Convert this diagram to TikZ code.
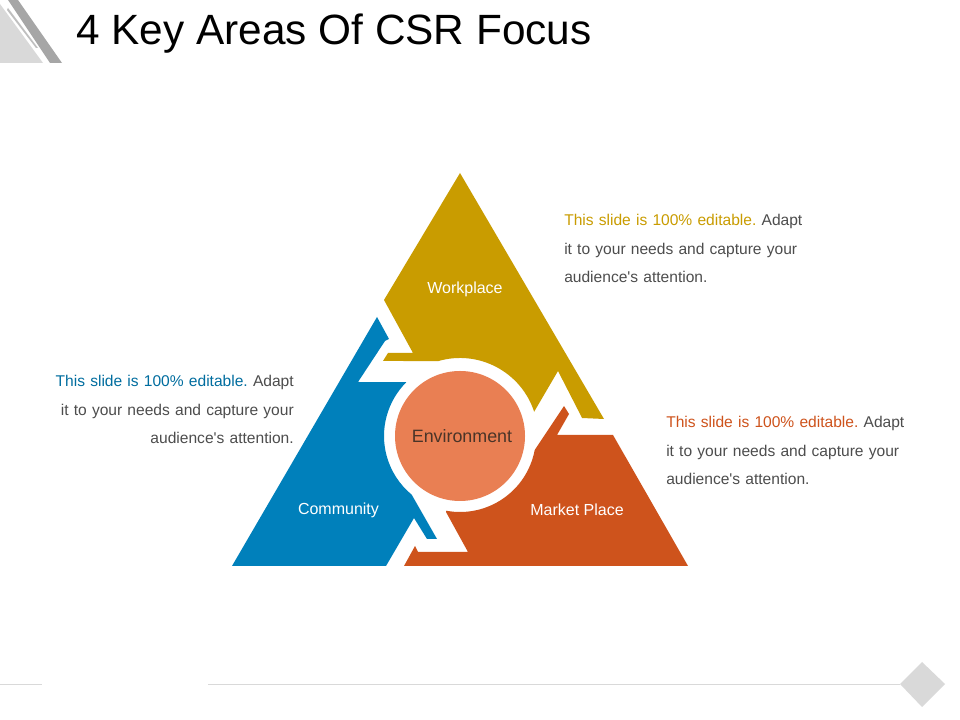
\documentclass[tikz,border=0pt]{standalone}
\usepackage{fontspec}
\setmainfont{Liberation Sans}
\newfontfamily\plainsans{Liberation Sans}
\usetikzlibrary{calc}
\definecolor{goldc}{HTML}{C99C00}
\definecolor{bluec}{HTML}{0080BB}
\definecolor{orangec}{HTML}{CE531C}
\definecolor{circc}{HTML}{E97F53}
\definecolor{textc}{HTML}{4D4D4D}
\definecolor{rulec}{HTML}{D9D9D9}
\definecolor{envc}{HTML}{4A3428}
\tikzset{
  label/.style={text=white,font=\fontsize{12}{14}\selectfont,inner sep=0pt},
  para/.style={text=textc,font=\plainsans\frenchspacing\fontsize{11.68}{21.4}\selectfont,inner sep=0pt,align=left,anchor=north west,text width=260pt},
  parar/.style={para,align=right,anchor=north east}
}
\begin{document}
\begin{tikzpicture}[x=0.75pt,y=0.75pt]
\useasboundingbox (0,0) rectangle (960,720);
\fill[white] (0,0) rectangle (960,720);
% top-left decoration
\fill[rulec] (0,716) -- (43,657) -- (0,657) -- cycle;
\fill[black!25] (8,712) -- (38,672) -- (36,672) -- (7,710) -- cycle;
\fill[black!35] (8,720) -- (18,720) -- (62,657) -- (50,657) -- cycle;
% footer
\draw[rulec,line width=0.75pt] (0,35) -- (42,35);
\draw[rulec,line width=0.75pt] (208,35) -- (900,35);
\fill[rulec] (900,36) -- (922,58) -- (945,36) -- (922,13) -- cycle;
\coordinate (c) at (460,284);
% triangle segments
\fill[goldc] (460,547) -- (604,301) -- (582,302) -- (578,310) -- (558,349) -- (534,308)
  -- ($(c)+(18:78)$) arc[start angle=18,end angle=106,radius=78]
  -- (383,359) -- (388,367) -- (413,367) -- (384,420) -- cycle;
\fill[bluec] (377,403) -- (389,381) -- (385,379) -- (358,338)
  -- ($(c)+(135:76)$) arc[start angle=135,end angle=230.5,radius=76]
  -- (437,181) -- (427,181) -- (414,202) -- (386,154) -- (232,154) -- cycle;
\fill[orangec] (404,154) -- (415,174) -- (418,168) -- (468,168) -- (446,208)
  -- ($(c)+(259.6:76)$) arc[start angle=259.6,end angle=349.3,radius=76]
  -- (564,314) -- (569,306) -- (557,285) -- (613,285) -- (688,154) -- cycle;
\fill[circc] (c) circle[radius=65];
% labels
\node[inner sep=0pt,text=black,font=\fontsize{31.75}{36}\selectfont,anchor=base west] (title) at (76,675) {4 Key Areas Of CSR Focus};
\node[label] (work) at (465,431) {Workplace};
\node[label] (comm) at (338.5,210) {Community};
\node[label] (mark) at (577,210) {Market Place};
\node[label,text=envc,font=\fontsize{13.4}{15}\selectfont] (env) at (462,284) {Environment};
\node[para] (t1) at (564,506) {\textcolor{goldc}{This slide is 100\% editable.} Adapt\\it to your needs and capture your\\audience's attention.};
\node[para] (t2) at (666,304) {\textcolor{orangec}{This slide is 100\% editable.} Adapt\\it to your needs and capture your\\audience's attention.};
\node[parar] (t3) at (294,345) {\textcolor{bluec!85!black}{This slide is 100\% editable.} Adapt\\it to your needs and capture your\\audience's attention.};
\end{tikzpicture}
\end{document}
